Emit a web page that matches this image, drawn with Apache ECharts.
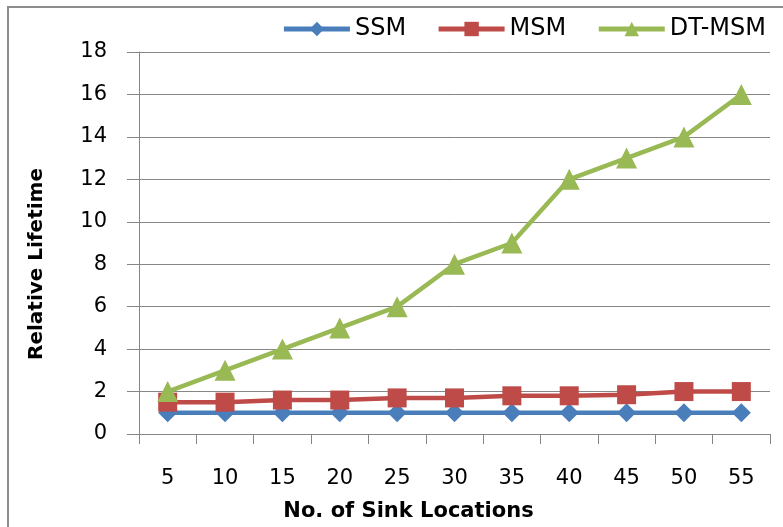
<!DOCTYPE html>
<html><head><meta charset="utf-8">
<script src="https://cdn.jsdelivr.net/npm/echarts@6/dist/echarts.min.js"></script>
<style>html,body{margin:0;padding:0;background:#fff}#c{width:783px;height:527px}</style>
</head><body><div id="c"></div>
<script>
const categories = ['5','10','15','20','25','30','35','40','45','50','55'];
const ssm = [1,1,1,1,1,1,1,1,1,1,1];
const msm = [1.5,1.5,1.6,1.6,1.7,1.7,1.8,1.8,1.85,2,2];
const dtmsm = [2,3,4,5,6,8,9,12,13,14,16];
const yTicks = {min:0,max:18,interval:2};

const chart = echarts.init(document.getElementById('c'));
const font = '"DejaVu Sans", sans-serif';
chart.setOption({
  animation:false,
  graphic:[{type:'rect',shape:{x:8,y:7,width:790,height:530},style:{fill:'none',stroke:'#8c8c8c',lineWidth:2}}],
  legend:{top:12,right:12,itemWidth:66,itemHeight:18,itemGap:30,
    lineStyle:{width:5},
    textStyle:{fontFamily:font,fontSize:24,color:'#000'},
    data:['SSM','MSM','DT-MSM']},
  grid:{left:139,right:13,top:52,bottom:91},
  xAxis:{type:'category',data:categories,boundaryGap:true,
    name:'No. of Sink Locations',nameLocation:'middle',nameGap:67,
    nameTextStyle:{fontFamily:font,fontSize:21,fontWeight:'bold',color:'#000',padding:[0,92,0,0]},
    axisLine:{lineStyle:{color:'#868686',width:1}},
    axisTick:{show:true,length:10,alignWithLabel:false,lineStyle:{color:'#868686'}},
    axisLabel:{fontFamily:font,fontSize:21,color:'#000',margin:34}},
  yAxis:{type:'value',min:yTicks.min,max:yTicks.max,interval:yTicks.interval,
    name:'Relative Lifetime',nameLocation:'middle',nameGap:92,
    nameTextStyle:{fontFamily:font,fontSize:20,fontWeight:'bold',color:'#000',padding:[0,42,0,0]},
    axisLine:{show:true,lineStyle:{color:'#868686'}},
    axisTick:{show:true,length:12,lineStyle:{color:'#868686'}},
    axisLabel:{fontFamily:font,fontSize:21,color:'#000',margin:32},
    splitLine:{lineStyle:{color:'#868686',width:1}}},
  series:[
    {name:'SSM',type:'line',data:ssm,symbol:'diamond',symbolSize:19,
     lineStyle:{width:4.5,color:'#4A7EBB'},itemStyle:{color:'#4A7EBB'}},
    {name:'MSM',type:'line',data:msm,symbol:'rect',symbolSize:19,
     lineStyle:{width:4.5,color:'#BE4B48'},itemStyle:{color:'#BE4B48'}},
    {name:'DT-MSM',type:'line',data:dtmsm,symbol:'triangle',symbolSize:21,
     lineStyle:{width:4.5,color:'#98B954'},itemStyle:{color:'#98B954'}}
  ]
});
</script></body></html>
